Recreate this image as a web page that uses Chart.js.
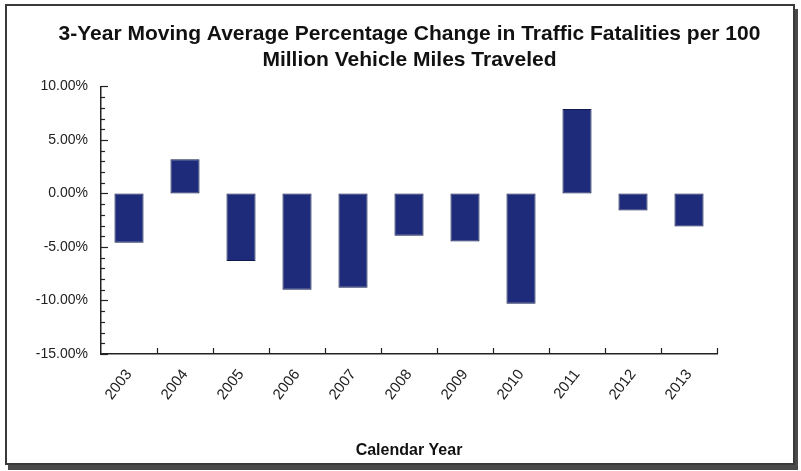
<!DOCTYPE html>
<html>
<head>
<meta charset="utf-8">
<script src="https://cdn.jsdelivr.net/npm/chart.js@4/dist/chart.umd.min.js"></script>
<style>
  html, body { margin: 0; padding: 0; background: #fff; }
  #wrap { position: relative; width: 801px; height: 471px; overflow: hidden; }
  #frame {
    position: absolute; left: 5px; top: 4px; width: 786px; height: 457px;
    border: 2px solid #3a3a3a; box-shadow: 3px 5px 0 #4a4a4a; pointer-events: none;
  }
  canvas { position: absolute; left: 0; top: 0; }
</style>
</head>
<body>
<div id="wrap">
  <canvas id="TrafficChart" width="801" height="471"></canvas>
  <div id="frame"></div>
</div>
<script>
// years on the x axis
var years = ["2003", "2004", "2005", "2006", "2007", "2008", "2009", "2010", "2011", "2012", "2013"];
// 3-year moving average % change
var pctChange = [-4.6, 3.2, -6.3, -9.0, -8.8, -3.95, -4.5, -10.3, 7.9, -1.6, -3.1];
var yTicks = [-15, -10, -5, 0, 5, 10];

var font = "'Liberation Sans', Arial, sans-serif";

// small tick marks that point into the plot, like the original
var innerTicks = {
  id: "innerTicks",
  afterDraw: function (chart) {
    let ctx = chart.ctx;
    let area = chart.chartArea;
    let y = chart.scales.y;
    ctx.save();
    ctx.strokeStyle = "#222";
    ctx.lineWidth = 1.2;
    for (let v = yTicks[0]; v <= yTicks[yTicks.length - 1]; v++) {
      let py = Math.round(y.getPixelForValue(v)) + 0.5;
      let len = (v % 5 === 0) ? 7 : 4;
      ctx.beginPath();
      ctx.moveTo(area.left, py);
      ctx.lineTo(area.left + len, py);
      ctx.stroke();
    }
    let step = (area.right - area.left) / years.length;
    for (let i = 1; i <= years.length; i++) {
      let px = Math.round(area.left + i * step) + 0.5;
      ctx.beginPath();
      ctx.moveTo(px, area.bottom);
      ctx.lineTo(px, area.bottom - 6);
      ctx.stroke();
    }
    ctx.restore();
  }
};

new Chart(document.getElementById("TrafficChart"), {
  type: "bar",
  data: {
    labels: years,
    datasets: [{
      data: pctChange,
      backgroundColor: "#1d2b7a",
      borderColor: "#101a4a",
      borderWidth: 1,
      borderSkipped: false,
      categoryPercentage: 1.0,
      barPercentage: 0.52
    }]
  },
  options: {
    responsive: false,
    animation: false,
    layout: { padding: { left: 18, right: 0, top: 0, bottom: 11 } },
    plugins: {
      legend: { display: false },
      tooltip: { enabled: false },
      title: {
        display: true,
        text: ["3-Year Moving Average Percentage Change in Traffic Fatalities per 100", "Million Vehicle Miles Traveled"],
        color: "#111",
        font: { family: font, size: 21, weight: "bold", lineHeight: 1.2 },
        padding: { top: 22, bottom: 14 }
      }
    },
    scales: {
      x: {
        grid: { display: false, drawTicks: false },
        border: { display: true, color: "#222", width: 1.5 },
        ticks: {
          color: "#222",
          font: { family: font, size: 15 },
          minRotation: 52,
          maxRotation: 52,
          padding: 12
        },
        title: {
          display: true,
          text: "Calendar Year",
          color: "#111",
          font: { family: font, size: 16, weight: "bold" },
          padding: { top: 4, bottom: 0 }
        },
        afterFit: function (scale) { scale.height = 106; }
      },
      y: {
        min: yTicks[0],
        max: yTicks[yTicks.length - 1],
        grid: { display: false, drawTicks: false },
        border: { display: true, color: "#222", width: 1.5 },
        afterBuildTicks: function (scale) {
          scale.ticks = yTicks.map(function (v) { return { value: v }; });
        },
        ticks: {
          color: "#222",
          font: { family: font, size: 14 },
          padding: 13,
          callback: function (v) { return Number(v).toFixed(2) + "%"; }
        },
        afterFit: function (scale) { scale.width = 83; }
      },
      // empty right-hand strip so the plot ends where the original does
      spacer: {
        type: "linear",
        position: "right",
        grid: { display: false },
        border: { display: false },
        ticks: { display: false },
        afterFit: function (scale) { scale.width = 84; }
      }
    }
  },
  plugins: [innerTicks]
});
</script>
</body>
</html>
